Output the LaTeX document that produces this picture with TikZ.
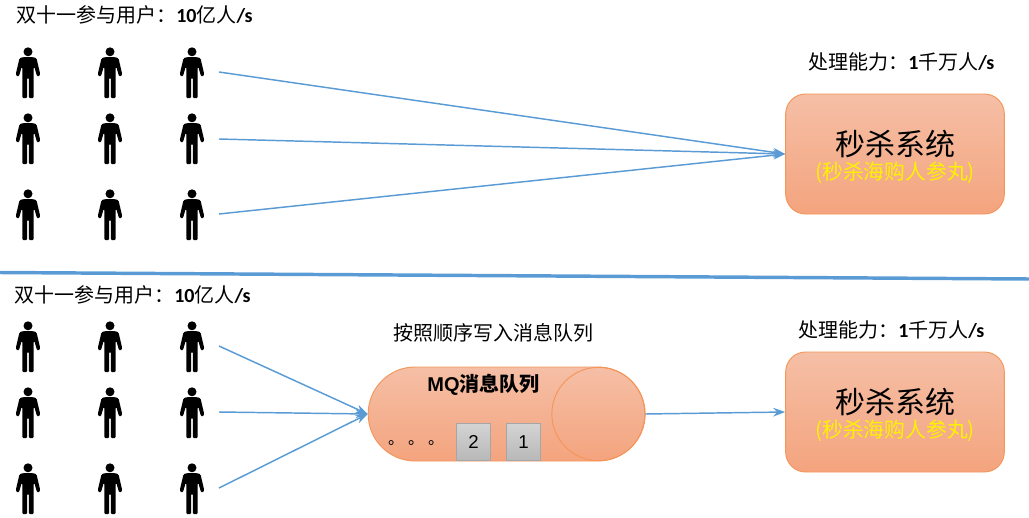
\documentclass[tikz,border=0pt]{standalone}
\usepackage{fontspec}
\setmainfont{Carlito}
\newfontfamily\cjk{Noto Sans CJK SC}
\newfontfamily\arialfont{Liberation Sans}
\usetikzlibrary{arrows.meta}
\usepackage{xcolor}
\definecolor{linkblue}{HTML}{5B9BD5}
\definecolor{boxtop}{HTML}{F5BFA6}
\definecolor{boxbot}{HTML}{F4A47E}
\definecolor{boxline}{HTML}{F4955A}
\newcommand{\rate}[3]{{\fontsize{15pt}{17pt}\selectfont\cjk #1}{\fontsize{15pt}{17pt}\selectfont\bfseries #2}{\fontsize{15pt}{17pt}\selectfont\cjk #3}{\fontsize{15pt}{17pt}\selectfont\bfseries /s}}
\tikzset{
  caption/.style={inner sep=0pt, anchor=west},
  flow/.style={draw=linkblue, line width=1.1pt, -{Stealth[length=9pt,width=6.5pt]}},
  orangebox/.style={draw=boxline, line width=.7pt, top color=boxtop, bottom color=boxbot},
  sysbox/.style={orangebox, rounded corners=15pt, minimum width=164pt, minimum height=90pt, inner sep=0pt},
  systitle/.style={inner sep=0pt, font=\cjk\fontsize{22.5pt}{27pt}\selectfont},
  syssub/.style={inner sep=0pt, text=yellow, font=\cjk\fontsize{15.6pt}{18pt}\selectfont},
  itembox/.style={draw=black!35, line width=.8pt, top color=black!17, bottom color=black!28, minimum width=26pt, minimum height=28pt, inner sep=0pt, font=\arialfont\fontsize{14pt}{16pt}\selectfont},
  person/.pic={
    \fill (0,3.8) circle [radius=4.5];
    \fill[rounded corners=.8pt] (-5.5,9.2) -- (5.5,9.2) -- (8.5,10.3) -- (12.2,26) -- (11,28.5) -- (9,28.2) -- (6.4,19)
      -- (5.7,19) -- (5.7,50) -- (.9,50) -- (.9,30) -- (-.9,30) -- (-.9,50) -- (-5.7,50) -- (-5.7,19)
      -- (-6.4,19) -- (-9,28.2) -- (-11,28.5) -- (-12.2,26) -- (-8.5,10.3) -- cycle;
  }
}
\begin{document}
\begin{tikzpicture}[x=.75pt,y=-.75pt]
\useasboundingbox (0,0) rectangle (1029,518);
% people
\foreach \px in {28,110,192}{
  \foreach \py in {48,114,190,322,388,464}{
    \pic at (\px,\py) {person};
  }
}
% top part
\node[caption] (usersa) at (16,15) {\rate{双十一参与用户：}{10}{亿人}};
\node[caption] (capa) at (808,62) {\rate{处理能力：}{1}{千万人}};
\node[sysbox] (sysa) at (895,154) {};
\node[systitle] (titlea) at (895,144) {秒杀系统};
\node[syssub] (suba) at (895,173) {(秒杀海购人参丸)};
\coordinate (a1) at (219,72);
\coordinate (a2) at (219,139);
\coordinate (a3) at (219,214);
\foreach \s in {a1,a2,a3}
  \draw[flow] (\s) -- (sysa.west);
% divider
\coordinate (sepl) at (0,272.5);
\coordinate (sepr) at (1029,279);
\draw[linkblue, line width=2.6pt] (sepl) -- (sepr);
% bottom part
\node[caption] (usersb) at (14,295) {\rate{双十一参与用户：}{10}{亿人}};
\node[caption] (capb) at (798,330) {\rate{处理能力：}{1}{千万人}};
\node[caption] (order) at (393,333) {\cjk\fontsize{15pt}{17pt}\selectfont 按照顺序写入消息队列};
\node[orangebox, rounded corners=35.2pt, minimum width=207.5pt, minimum height=70.5pt, inner sep=0pt] (mq) at (506.5,414) {};
\node[circle, draw=boxline, line width=.7pt, minimum size=70pt, inner sep=0pt] (mqend) at (598.5,414) {};
\node[inner sep=0pt] (mqname) at (483.5,385) {\bfseries\fontsize{15pt}{17pt}\selectfont{\arialfont MQ}\cjk 消息队列};
\node[itembox] (item2) at (473.5,442) {2};
\node[itembox] (item1) at (523.5,442) {1};
\foreach \dx/\dname in {391/d1,411/d2,431/d3}
  \node[inner sep=0pt, font=\cjk\fontsize{12pt}{14pt}\selectfont] (\dname) at (\dx+5,443) {。};
\node[sysbox] (sysb) at (895,412) {};
\node[systitle] (titleb) at (895,402) {秒杀系统};
\node[syssub] (subb) at (895,431) {(秒杀海购人参丸)};
\coordinate (b1) at (219,346);
\coordinate (b2) at (219,412);
\coordinate (b3) at (219,488);
\foreach \s in {b1,b2,b3}
  \draw[flow] (\s) -- (mq.west);
\draw[flow] (mq.east) -- (sysb.west);
\end{tikzpicture}
\end{document}
